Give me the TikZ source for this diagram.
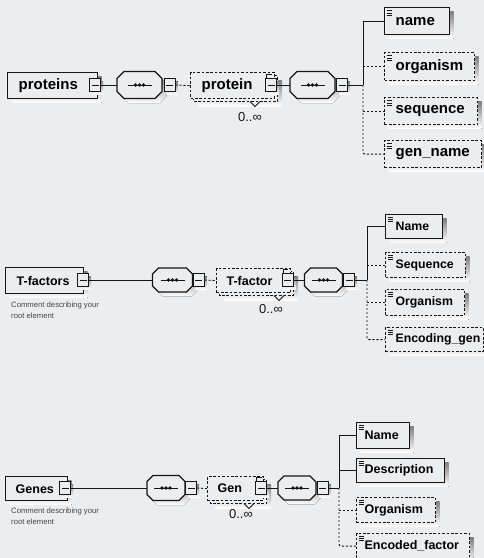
\documentclass[tikz,border=0pt]{standalone}
\usepackage{fontspec}
\setmainfont{Liberation Sans}
\usetikzlibrary{calc}

\definecolor{paper}{RGB}{234,238,241}
\definecolor{ink}{RGB}{22,22,22}
\definecolor{shade}{RGB}{158,158,162}
\definecolor{cmt}{RGB}{70,70,70}

\tikzset{
  wire/.style={draw=ink, line width=0.9pt},
  optwire/.style={wire, dash pattern=on 2.2pt off 1.8pt},
  boxline/.style={draw=ink, line width=1.4pt, fill=paper},
  optbox/.style={boxline, line width=1.2pt, dash pattern=on 2.6pt off 1.8pt},
  mult/.style={font=\fontsize{13}{13}\selectfont, inner sep=0pt, text=ink},
  remark/.style={anchor=north west, align=left, inner sep=0pt, text=cmt,
                 font=\fontsize{7.7}{11}\selectfont},
}

% element box with its shadow: name, style, x, y, width, height, font size, text, left padding
\newcommand\elem[9]{%
  \fill[shade] (#3+4.5,#4+4.5) rectangle ++(#5,#6);
  \pgfmathsetmacro\elemtw{#5-2*#9}%
  \node[#2, anchor=north west, minimum width=#5, minimum height=#6,
        inner xsep=0pt, inner ysep=0pt, text width=\elemtw pt, align=left,
        font=\bfseries\fontsize{#7}{#7}\selectfont] (#1) at (#3,#4) {#8};}

% "simple type" glyph in the upper left corner of a child element
\newcommand\typeicon[2]{%
  \foreach \k in {0,1,2}
    \draw[ink, line width=0.6pt] ($(#1.north west)+(2.5,3+#2*\k)$) -- ++(5.5,0);}

% collapse button: name, x, y
\newcommand\minusbox[3]{%
  \fill[shade] (#2-3,#3-4) rectangle ++(11,13);
  \node[boxline, line width=0.9pt, minimum width=11, minimum height=13, inner sep=0pt]
        (#1) at (#2,#3) {};
  \draw[ink, line width=0.8pt] ($(#1.center)+(-3.5,0)$) -- ($(#1.center)+(3.5,0)$);}

% octagon outline: centre x, centre y, half width, half height, chamfer
\newcommand\octpath[5]{%
  (#1-#3+#5,#2-#4) -- (#1+#3-#5,#2-#4) -- (#1+#3,#2-#4+#5) -- (#1+#3,#2+#4-#5) --
  (#1+#3-#5,#2+#4) -- (#1-#3+#5,#2+#4) -- (#1-#3,#2+#4-#5) -- (#1-#3,#2-#4+#5) -- cycle}

% sequence compositor: name, x, y, half width, half height, chamfer
\newcommand\seqnode[6]{%
  \fill[shade] \octpath{#2+4.5}{#3+4.5}{#4}{#5}{#6};
  \filldraw[boxline] \octpath{#2}{#3}{#4}{#5}{#6};
  \node[inner sep=0pt, minimum width=2*#4, minimum height=2*#5] (#1) at (#2,#3) {};
  \draw[ink, line width=1pt] ($(#1.center)+(-12,0)$) -- ($(#1.center)+(12,0)$);
  \foreach \d in {-4,0,4} \fill[ink] ($(#1.center)+(\d,0)$) circle (1.8);}

% back copy of a repeated element: x, y, width, height
\newcommand\backcopy[4]{%
  \fill[shade] (#1+8,#2+8) rectangle ++(#3,#4);
  \draw[optbox] (#1+3.5,#2+3.5) rectangle ++(#3,#4);}

% marks of a repeated element: stack tick on its button and the notch below
\newcommand\repmarks[3]{%
  \draw[ink, line width=0.8pt] ($(#1.north west)+(1.5,0)$) -- ++(0,-3.5) -- ++(5,0);
  \draw[ink, line width=0.8pt] (#2,#3) -- ++(5,5) -- ++(5,-5);}

\begin{document}
\begin{tikzpicture}[x=1pt,y=-1pt]
\useasboundingbox (0,0) rectangle (484,558);
\fill[paper] (0,0) rectangle (484,558);

% ---------------- proteins ----------------
\elem{proteins}{boxline}{7}{72}{90}{26}{15}{proteins}{11}
\minusbox{mA1}{95}{85}
\seqnode{sA1}{139.5}{85}{22.5}{13.5}{7}
\minusbox{mA2}{169.5}{85}
\backcopy{190}{72}{84}{26}
\node[optbox, anchor=north west, minimum width=84, minimum height=26, inner xsep=0pt,
      inner ysep=0pt, text width=62pt, align=left, font=\bfseries\fontsize{15}{15}\selectfont]
      (protein) at (190,72) {protein};
\minusbox{mA3}{271}{85}
\repmarks{mA3}{250}{101.5}
\node[mult] (multA) at (250,117) {0..∞};
\seqnode{sA2}{312.5}{85}{22.5}{13.5}{7}
\minusbox{mA4}{342}{85}
\coordinate (bA) at (363,85);

\elem{nameA}{boxline}{384}{7}{65}{27}{15}{name}{11}
\elem{orgA}{optbox}{384}{52}{90}{28}{15}{organism}{11}
\elem{seqA}{optbox}{384}{97}{93}{27}{15}{sequence}{11}
\elem{genA}{optbox}{384}{140}{97}{27}{15}{gen\_name}{11}
\foreach \n in {nameA,orgA,seqA,genA} {\typeicon{\n}{2.8}}

\draw[wire] (mA1.east) -- (sA1.west);
\draw[optwire] (mA2.east) -- (protein.west);
\draw[wire] (mA3.east) -- (sA2.west);
\draw[wire] (mA4.east) -- (bA);
\draw[wire] (bA) |- (nameA.west);
\draw[optwire] (bA |- orgA.west) -- (orgA.west);
\draw[optwire, rounded corners=2pt] (bA) |- (genA.west);
\draw[optwire] (bA |- seqA.west) -- (seqA.west);

% ---------------- T-factors ----------------
\elem{tfactors}{boxline}{5}{267}{78}{26}{12.5}{T-factors}{11}
\minusbox{mB1}{83}{280}
\node[remark] (remB) at (11,302) {Comment describing your\\root element};
\seqnode{sB1}{172.5}{280}{20}{12}{6}
\minusbox{mB2}{198.5}{280}
\backcopy{216}{268}{74}{24}
\node[optbox, anchor=north west, minimum width=74, minimum height=24, inner xsep=0pt,
      inner ysep=0pt, text width=54pt, align=left, font=\bfseries\fontsize{12.5}{12.5}\selectfont]
      (tfactor) at (216,268) {T-factor};
\minusbox{mB3}{287.5}{280}
\repmarks{mB3}{274}{295.5}
\node[mult] (multB) at (271,309) {0..∞};
\seqnode{sB2}{323.5}{280}{19}{12}{6}
\minusbox{mB4}{349}{280}
\coordinate (bB) at (367,280);

\elem{nameB}{boxline}{385}{214}{57}{24}{12.3}{Name}{10}
\elem{seqB}{optbox}{385}{252}{80}{25}{12.3}{Sequence}{10}
\elem{orgB}{optbox}{385}{289}{79}{26}{12.3}{Organism}{10}
\elem{encB}{optbox}{385}{327}{98}{24}{12.3}{Encoding\_gen}{10}
\foreach \n in {nameB,seqB,orgB,encB} {\typeicon{\n}{2.3}}

\draw[wire] (mB1.east) -- (sB1.west);
\draw[optwire] (mB2.east) -- (tfactor.west);
\draw[wire] (mB3.east) -- (sB2.west);
\draw[wire] (mB4.east) -- (bB);
\draw[wire] (bB) |- (nameB.west);
\draw[optwire] (bB |- seqB.west) -- (seqB.west);
\draw[optwire] (bB |- orgB.west) -- (orgB.west);
\draw[optwire, rounded corners=2pt] (bB) |- (encB.west);

% ---------------- Genes ----------------
\elem{genes}{boxline}{5}{476}{62}{24}{12.5}{Genes}{10}
\minusbox{mC1}{65}{488}
\node[remark] (remC) at (11,508) {Comment describing your\\root element};
\seqnode{sC1}{166}{488}{19}{12.5}{6}
\minusbox{mC2}{191}{488}
\backcopy{207}{476}{56}{24}
\node[optbox, anchor=north west, minimum width=56, minimum height=24, inner xsep=0pt,
      inner ysep=0pt, text width=36pt, align=left, font=\bfseries\fontsize{12.5}{12.5}\selectfont]
      (gen) at (207,476) {Gen};
\minusbox{mC3}{261}{488}
\repmarks{mC3}{244}{503.5}
\node[mult] (multC) at (241,514) {0..∞};
\seqnode{sC2}{297}{488}{19}{12}{6}
\minusbox{mC4}{322.5}{488}
\coordinate (bC) at (339,488);

\elem{nameC}{boxline}{356}{422}{53}{26}{12.5}{Name}{8}
\elem{descC}{boxline}{356}{458}{88}{24}{12.5}{Description}{8}
\elem{orgC}{optbox}{356}{497}{79}{25}{12.5}{Organism}{8}
\elem{encC}{optbox}{356}{533}{113}{25}{12.5}{Encoded\_factor}{8}
\foreach \n in {nameC,descC,orgC,encC} {\typeicon{\n}{2.3}}

\draw[wire] (mC1.east) -- (sC1.west);
\draw[optwire] (mC2.east) -- (gen.west);
\draw[wire] (mC3.east) -- (sC2.west);
\draw[wire] (mC4.east) -- (bC);
\draw[wire] (bC) |- (nameC.west);
\draw[wire] (bC |- descC.west) -- (descC.west);
\draw[optwire] (bC |- orgC.west) -- (orgC.west);
\draw[optwire, rounded corners=2pt] (bC) |- (encC.west);
\end{tikzpicture}
\end{document}
